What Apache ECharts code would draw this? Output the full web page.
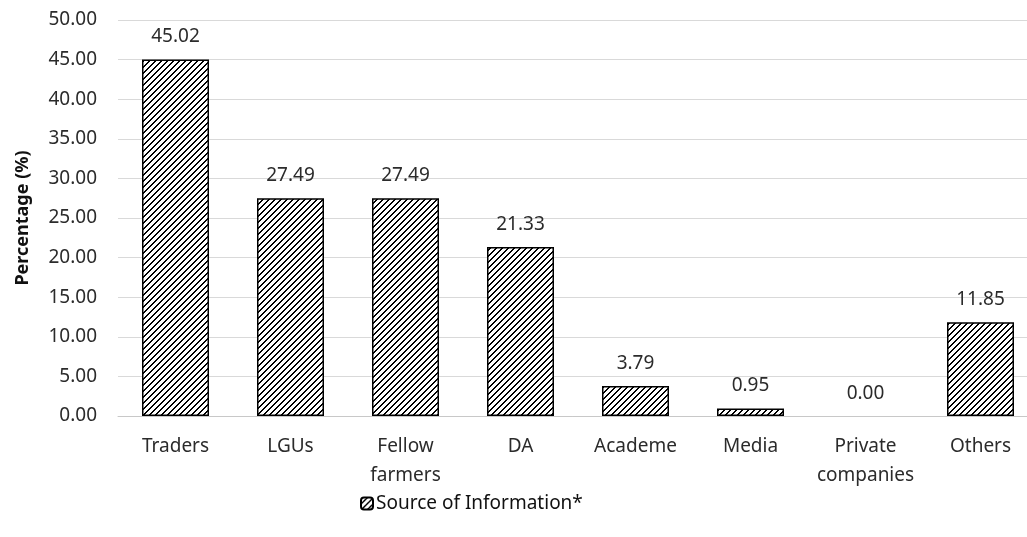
<!DOCTYPE html>
<html>
<head>
<meta charset="utf-8">
<script src="https://cdn.jsdelivr.net/npm/echarts@6/dist/echarts.min.js"></script>
<style>
  html, body { margin: 0; padding: 0; background: #fff; }
  #chart { width: 1027px; height: 537px; }
</style>
</head>
<body>
<div id="chart"></div>
<script>
// data
var categories = ['Traders', 'LGUs', 'Fellow\nfarmers', 'DA', 'Academe', 'Media', 'Private\ncompanies', 'Others'];
var percentages = [45.02, 27.49, 27.49, 21.33, 3.79, 0.95, 0.00, 11.85];
var seriesName = 'Source of Information*';

// hatch pattern: crisp pixel staircase, bottom-left to top-right
function makeHatch() {
    var s = 6;
    var c = document.createElement('canvas');
    c.width = s; c.height = s;
    var ctx = c.getContext('2d');
    ctx.fillStyle = '#fff';
    ctx.fillRect(0, 0, s, s);
    ctx.fillStyle = '#000';
    for (var i = 0; i < s; i++) {
        ctx.fillRect(i, s - 1 - i, 1, 1);
        ctx.fillRect((i + 1) % s, s - 1 - i, 1, 1);
    }
    return c;
}
var hatch = { image: makeHatch(), repeat: 'repeat' };

var font = '"Noto Sans", Lato, sans-serif';
var textColor = '#2b2b2b';

// zero-height bars get no outline, as in the picture
var barData = percentages.map(function (v) {
    return v === 0 ? { value: v, itemStyle: { borderWidth: 0 } } : v;
});

var myChart = echarts.init(document.getElementById('chart'));
myChart.setOption({
    animation: false,
    textStyle: { fontFamily: font },
    grid: {
        left: 118,
        top: 20,
        width: 920,
        height: 396,
        outerBoundsMode: 'none',
        containLabel: false
    },
    legend: {
        left: 355,
        top: 489,
        itemWidth: 12,
        itemHeight: 12,
        itemGap: 4,
        textStyle: { fontSize: 19, color: '#111', fontFamily: font, padding: [0, 0, 0, -2] },
        data: [seriesName]
    },
    xAxis: {
        type: 'category',
        data: categories,
        axisLine: { lineStyle: { color: '#c8c8c8', width: 1 } },
        axisTick: { show: false },
        axisLabel: {
            color: textColor,
            fontSize: 19,
            lineHeight: 29,
            margin: 16,
            interval: 0
        }
    },
    yAxis: {
        type: 'value',
        min: 0,
        max: 50,
        interval: 5,
        name: 'Percentage (%)',
        nameLocation: 'middle',
        nameGap: 86,
        nameRotate: 90,
        nameTextStyle: { fontSize: 18, fontWeight: 'bold', color: '#111' },
        axisLine: { show: false },
        axisTick: { show: false },
        splitLine: { lineStyle: { color: '#d9d9d9' } },
        axisLabel: {
            color: textColor,
            fontSize: 19,
            margin: 21,
            formatter: function (v) { return v.toFixed(2); }
        }
    },
    series: [{
        name: seriesName,
        type: 'bar',
        data: barData,
        barWidth: 67,
        itemStyle: {
            color: hatch,
            borderColor: '#000',
            borderWidth: 1.5
        },
        label: {
            show: true,
            position: 'top',
            distance: 13,
            fontSize: 19,
            color: textColor,
            formatter: function (p) { return p.value.toFixed(2); }
        }
    }]
});
</script>
</body>
</html>
